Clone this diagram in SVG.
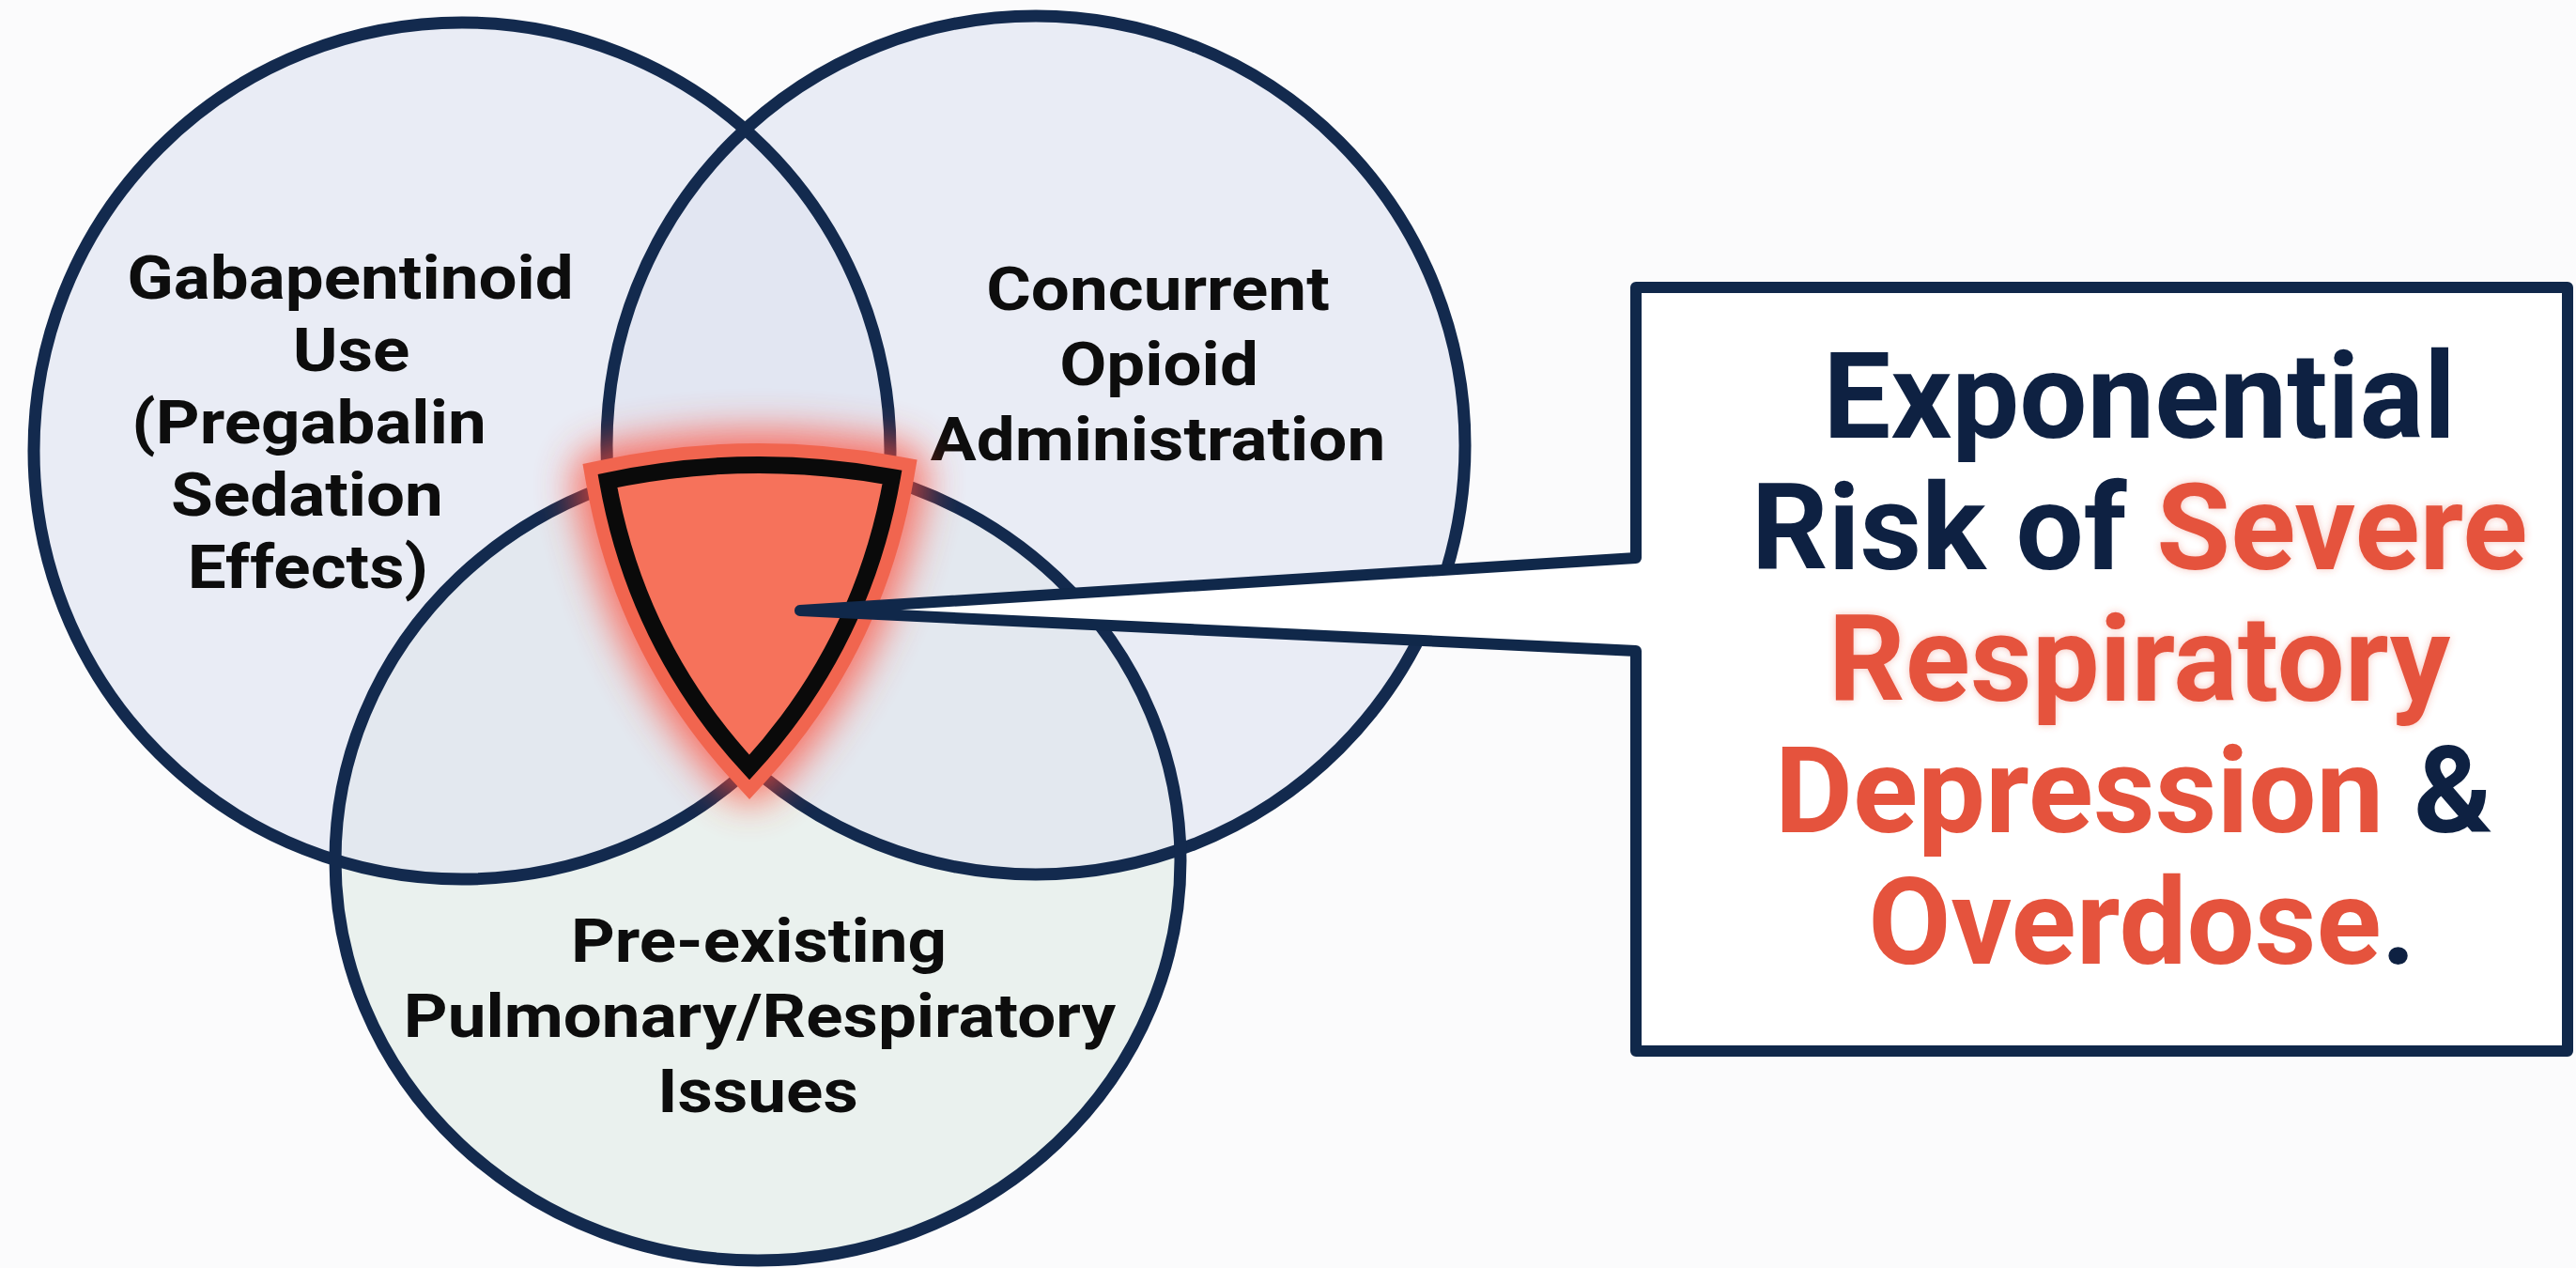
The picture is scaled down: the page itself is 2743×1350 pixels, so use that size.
<svg xmlns="http://www.w3.org/2000/svg" width="2743" height="1350" viewBox="0 0 2743 1350">
  <style>
    .lbl { font-family: Roboto, "Liberation Sans", Arial, sans-serif; font-weight: 700; text-anchor: middle; fill: #0d0d0d; font-size: 65px; }
    .big { font-family: Roboto, "Liberation Sans", Arial, sans-serif; font-weight: 700; text-anchor: middle; font-size: 128px; }
    .navy { fill: #0e2142; }
    .red { fill: #e5533d; }
    .ring { fill: none; stroke: #132a4e; stroke-width: 13; }
    .fillA { fill: #dde3f0; fill-opacity: 0.6; }
    .line { fill: #ffffff; stroke: #10284a; stroke-width: 12; stroke-linejoin: round; stroke-linecap: round; }
  </style>
  <defs>
    <filter id="glow" x="-60%" y="-60%" width="220%" height="220%">
      <feGaussianBlur stdDeviation="20"/>
    </filter>
    <filter id="soft" x="-10%" y="-20%" width="120%" height="140%">
      <feGaussianBlur in="SourceGraphic" stdDeviation="4" result="b"/>
      <feComponentTransfer in="b" result="bf"><feFuncA type="linear" slope="0.35"/></feComponentTransfer>
      <feMerge><feMergeNode in="bf"/><feMergeNode in="SourceGraphic"/></feMerge>
    </filter>
    <!-- shield outline: curved top, convex sides, pointed base -->
    <path id="core" d="M647,512 Q798,480 950,508 Q919,685 798,817 Q678,687 647,512 Z"/>
  </defs>

  <rect x="0" y="0" width="2743" height="1350" fill="#fbfbfc"/>

  <!-- set fills, drawn beneath every outline -->
  <g id="venn-fills">
    <ellipse cx="807" cy="916" rx="450" ry="426" fill="#eaf1ee"/>
    <circle class="fillA" cx="492" cy="480" r="456"/>
    <circle class="fillA" cx="1103" cy="474" r="457"/>
  </g>

  <g id="node-gabapentinoid">
    <circle class="ring" cx="492" cy="480" r="456"/>
    <text class="lbl" transform="translate(373,318) scale(1.12,1)">Gabapentinoid</text>
    <text class="lbl" transform="translate(374,395) scale(1.12,1)">Use</text>
    <text class="lbl" transform="translate(329,472) scale(1.12,1)">(Pregabalin</text>
    <text class="lbl" transform="translate(327,549) scale(1.12,1)">Sedation</text>
    <text class="lbl" transform="translate(328,626) scale(1.12,1)">Effects)</text>
  </g>

  <g id="node-opioid">
    <circle class="ring" cx="1103" cy="474" r="457"/>
    <text class="lbl" transform="translate(1233,330) scale(1.12,1)">Concurrent</text>
    <text class="lbl" transform="translate(1234,410) scale(1.12,1)">Opioid</text>
    <text class="lbl" transform="translate(1233,490) scale(1.12,1)">Administration</text>
  </g>

  <g id="node-pulmonary">
    <ellipse class="ring" cx="807" cy="916" rx="450" ry="426"/>
    <text class="lbl" transform="translate(808,1024) scale(1.12,1)">Pre-existing</text>
    <text class="lbl" transform="translate(809,1104) scale(1.12,1)">Pulmonary/Respiratory</text>
    <text class="lbl" transform="translate(807,1184) scale(1.12,1)">Issues</text>
  </g>

  <!-- triple overlap highlighted as a glowing shield -->
  <g id="node-overlap">
    <use href="#core" fill="#ff5a44" stroke="#ff4a36" stroke-width="74" stroke-linejoin="round" opacity="0.75" filter="url(#glow)"/>
    <use href="#core" fill="#f6725b" stroke="#f1654f" stroke-width="46" stroke-linejoin="miter" stroke-miterlimit="10"/>
    <use href="#core" fill="#f6725b" stroke="#0a0a0a" stroke-width="18" stroke-linejoin="miter" stroke-miterlimit="10"/>
  </g>

  <g id="connectors">
    <path class="line" d="M1742,594 L852,650 L1742,693"/>
  </g>

  <g id="node-outcome">
    <rect x="1742" y="306" width="992" height="813" fill="#ffffff"/>
    <path d="M1742,594 V306 H2734 V1119 H1742 V693" fill="none" stroke="#10284a" stroke-width="12" stroke-linejoin="round" stroke-linecap="round"/>
    <text class="big navy" x="2278" y="466">Exponential</text>
    <text class="big" x="2278" y="606"><tspan class="navy">Risk of </tspan><tspan class="red" filter="url(#soft)">Severe</tspan></text>
    <text class="big red" x="2278" y="746" filter="url(#soft)">Respiratory</text>
    <text class="big" x="2272" y="886"><tspan class="red">Depression</tspan><tspan class="navy"> &amp;</tspan></text>
    <text class="big" x="2281" y="1026"><tspan class="red">Overdose</tspan><tspan class="navy">.</tspan></text>
  </g>
</svg>
